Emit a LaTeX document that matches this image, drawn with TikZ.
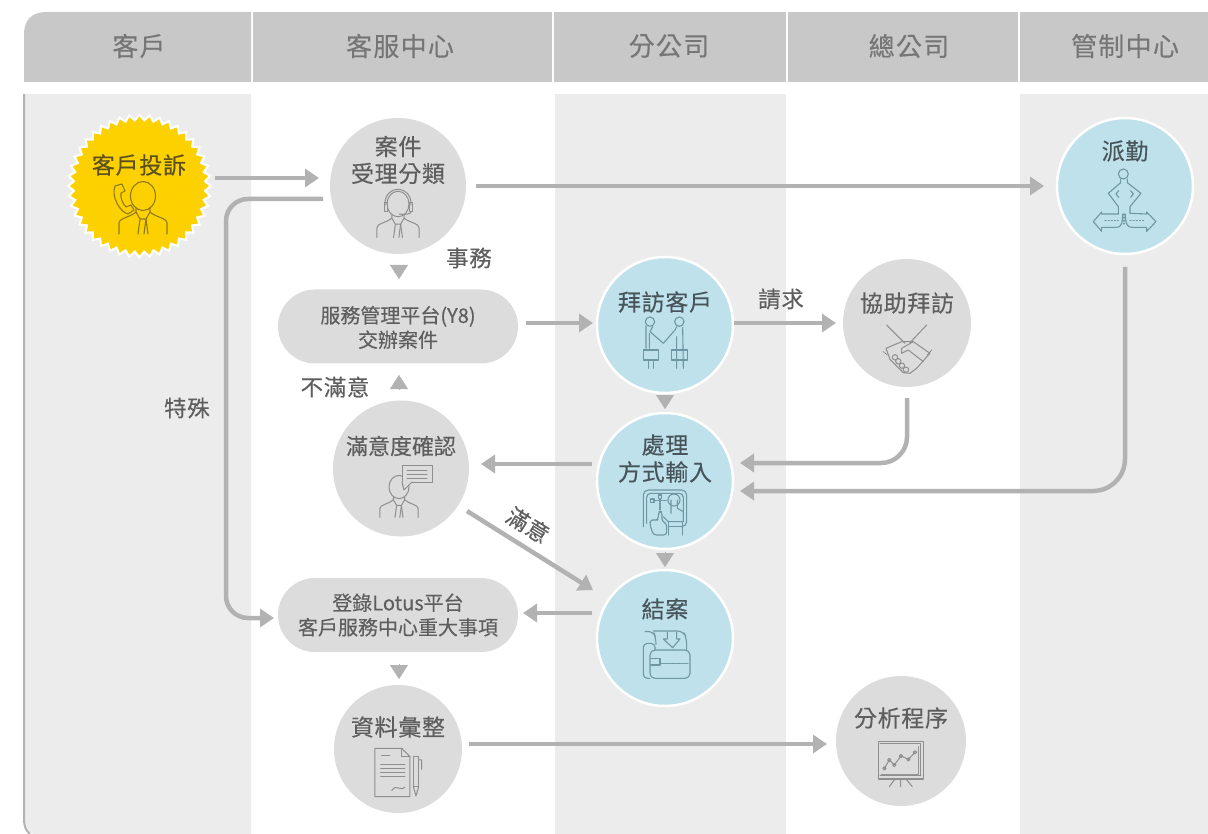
\documentclass[tikz,border=0pt]{standalone}
\usepackage{fontspec}
\setmainfont[FakeBold=0.3]{Noto Sans CJK TC}
\newfontfamily\cjkwide[LetterSpace=5,FakeBold=0.3]{Noto Sans CJK TC}
\newfontfamily\cjkmid[LetterSpace=3,FakeBold=0.3]{Noto Sans CJK TC}
\usetikzlibrary{arrows.meta,calc,shapes.geometric}
\definecolor{headbar}{HTML}{C8C8C8}
\definecolor{lane}{HTML}{ECECEC}
\definecolor{ng}{HTML}{DCDCDC}
\definecolor{nb}{HTML}{BFE1EC}
\definecolor{lineg}{HTML}{B2B2B2}
\definecolor{tx}{HTML}{5E5E5E}
\definecolor{txb}{HTML}{47555A}
\definecolor{ig}{HTML}{8E8E8E}
\definecolor{ib}{HTML}{6F97A3}
\definecolor{iy}{HTML}{8F7A1E}
\definecolor{stary}{HTML}{FDD000}
\definecolor{txy}{HTML}{5C501E}
\newcommand{\fsz}[2]{\fontsize{#1}{#2}\selectfont}
\tikzset{
  x=1pt,y=-1pt,
  hd/.style={font=\cjkwide\fsz{26}{30},text=tx!85!white,inner sep=0},
  gcirc/.style={circle,fill=ng,inner sep=0,minimum size=#1},
  bcirc/.style={circle,fill=nb,draw=white,line width=2.5,inner sep=0,minimum size=#1},
  pill/.style={rectangle,rounded corners=37,fill=ng,inner sep=0,minimum width=240,minimum height=74},
  ntx/.style={font=\cjkmid\fsz{23}{27},text=tx,inner sep=0,align=center},
  btx/.style={ntx,text=txb},
  ptx/.style={font=\fsz{20}{24.5},text=tx,inner sep=0,align=center},
  lab/.style={font=\cjkmid\fsz{22.5}{26},text=tx,inner sep=0},
  flow/.style={draw=lineg,line width=4.5,-{Triangle[length=14,width=18]}},
  tri/.style={draw=lineg,line width=0.1,-{Triangle[length=14,width=18]}},
  ico/.style={draw=ig,line width=1,line join=round,line cap=round},
  icob/.style={draw=ib,line width=1.1,line join=round,line cap=round},
  icoy/.style={draw=iy,line width=1.1,line join=round,line cap=round},
  bust/.pic={
    \path[pic actions] (0,0) ellipse (12.5 and 14.5);
    \path[pic actions] (-24,38) -- (-24,27) .. controls (-24,22) and (-12,21) .. (-7,16) -- (-3,23) -- (-5,38);
    \path[pic actions] (24,38) -- (24,27) .. controls (24,22) and (12,21) .. (7,16) -- (3,23) -- (5,38);
    \path[pic actions] (-7,12) -- (-7,16) (7,12) -- (7,16) (-3,23) -- (3,23) (3,23) -- (1,38);
  }
}
\begin{document}
\begin{tikzpicture}
\useasboundingbox (0,0) rectangle (1208,834);
% lanes
\fill[lane] (24,94) -- (251,94) -- (251,834) -- (36,834) .. controls (28,834) and (24,828) .. (24,820) -- cycle;
\draw[lineg,line width=2] (24,94) -- (24,820) .. controls (24,826) and (26,831) .. (30,834);
\fill[lane] (555,94) rectangle (786,834);
\fill[lane] (1020,94) rectangle (1208,834);
% header
\fill[headbar] (24,82) -- (24,34) .. controls (24,20) and (32,12) .. (46,12) -- (251,12) -- (251,82) -- cycle;
\fill[headbar] (253,12) rectangle (552,82);
\fill[headbar] (554,12) rectangle (786,82);
\fill[headbar] (788,12) rectangle (1018,82);
\fill[headbar] (1020,12) rectangle (1208,82);
\node[hd] (h1) at (139,46) {客戶};
\node[hd] (h2) at (400,46) {客服中心};
\node[hd] (h3) at (669,46) {分公司};
\node[hd] (h4) at (909,46) {總公司};
\node[hd] (h5) at (1125,46) {管制中心};
% shapes
\node[star,star points=44,star point ratio=1.085,fill=white,inner sep=0,minimum size=146] (complaintrim) at (139.5,186) {};
\node[star,star points=44,star point ratio=1.085,fill=stary,inner sep=0,minimum size=139] (complaint) at (139.5,186) {};
\node[gcirc=136] (case) at (398,186) {};
\node[bcirc=136] (disp) at (1125,186) {};
\node[pill] (y8) at (398,326.5) {};
\node[bcirc=136] (visit) at (665,325) {};
\node[gcirc=128] (assist) at (907,323) {};
\node[gcirc=136] (sat) at (401,468.5) {};
\node[bcirc=136] (proc) at (665,481) {};
\node[pill] (login) at (398,615) {};
\node[bcirc=136] (close) at (665,638) {};
\node[gcirc=128] (data) at (398,749) {};
\node[gcirc=130] (ana) at (901,741) {};
% texts
\node[btx,text=txy] (t1) at (139,165) {客戶投訴};
\node[ntx] (t2) at (398,160) {案件\\受理分類};
\node[btx] (t3) at (1125,151) {派勤};
\node[ptx] (t4) at (398,327.5) {服務管理平台(Y8)\\交辦案件};
\node[btx] (t5) at (665,302) {拜訪客戶};
\node[ntx] (t6) at (907,303) {協助拜訪};
\node[ntx,font=\fsz{22}{27}] (t7) at (401,446) {滿意度確認};
\node[btx] (t8) at (665,458.5) {處理\\方式輸入};
\node[ptx] (t9) at (398,615) {登錄Lotus平台\\客戶服務中心重大事項};
\node[btx] (t10) at (665,609) {結案};
\node[ntx] (t11) at (398,727) {資料彙整};
\node[ntx] (t12) at (901,718) {分析程序};
% labels
\node[lab] (l1) at (469,258) {事務};
\node[lab] (l2) at (335,387) {不滿意};
\node[lab] (l3) at (187,408) {特殊};
\node[lab] (l4) at (781,299) {請求};
\node[lab,rotate=-32] (l5) at (528,525) {滿意};
% connectors
\draw[flow] ($(complaint.center)+(75.5,-8)$) -- ($(case.center)+(-79,-8)$);
\draw[flow] ($(case.center)+(78,0)$) -- ($(disp.center)+(-81,0)$);
\draw[flow,rounded corners=22] ($(case.center)+(-75,13)$) -- ($(login.center)+(-172,-416)$) -- ($(login.center)+(-172,3)$) -- ($(login.center)+(-124,3)$);
\draw[tri] ($(case.center)+(1,79)$) -- ($(y8.center)+(1,-47.5)$);
\draw[tri] ($(sat.center)+(-2,-79.5)$) -- ($(y8.center)+(1,48.5)$);
\draw[flow] ($(y8.center)+(128,-3.5)$) -- ($(visit.center)+(-72,-2)$);
\draw[flow] ($(visit.center)+(69,-2)$) -- ($(assist.center)+(-71,0)$);
\draw[tri] ($(visit.center)+(0,70)$) -- ($(proc.center)+(0,-72)$);
\draw[flow,rounded corners=26] ($(assist.center)+(0,75)$) -- ($(assist.center)+(0,140)$) -- ($(proc.center)+(75,-18)$);
\draw[flow,rounded corners=32] ($(disp.center)+(0,81)$) -- ($(disp.center)+(0,305)$) -- ($(proc.center)+(75,10)$);
\draw[flow] ($(proc.center)+(-73,-17)$) -- ($(sat.center)+(80,-4.5)$);
\draw[flow] ($(sat.center)+(66,42.5)$) -- ($(close.center)+(-72,-48)$);
\draw[tri] ($(proc.center)+(0,71)$) -- ($(close.center)+(0,-71)$);
\draw[flow] ($(close.center)+(-73,-25)$) -- ($(login.center)+(125,-2)$);
\draw[tri] ($(login.center)+(1,49)$) -- ($(data.center)+(1,-70)$);
\draw[flow] ($(data.center)+(71,-5)$) -- ($(ana.center)+(-74,3)$);
% icon: complaint
\pic[icoy] at (143,196) {bust};
\begin{scope}[icoy,shift={(113,183)}]
  \draw (2,3) -- (9,1) -- (12,8) -- (8,10) .. controls (7,15) and (10,21) .. (13,24) -- (18,22) -- (21,27) -- (15,31) .. controls (7,29) and (-2,14) .. (2,3) -- cycle;
\end{scope}
% icon: headset operator
\pic[ico,scale=0.88] at (398,204) {bust};
\draw[ico] (385,205) .. controls (384,184) and (412,184) .. (411,205);
\draw[ico] (384,203) rectangle (387,212) (409,203) rectangle (412,212);
\draw[ico] (411,212) .. controls (411,214) and (405,215) .. (399,214);
% icon: dispatch
\begin{scope}[icob,shift={(1080,150)},scale=0.3333]
  \draw (130,72) circle (15);
  \draw (122,87) -- (122,98) -- (85,130) -- (115,170) -- (115,192);
  \draw (142,87) -- (142,98) -- (183,130) -- (150,170) -- (150,190);
  \draw (116,122) -- (108,132) -- (116,142) (152,122) -- (160,132) -- (152,142);
  \draw (115,192) -- (65,192) -- (65,186) -- (40,215) -- (65,244) -- (65,232) -- (110,232) .. controls (122,232) and (128,222) .. (128,192);
  \draw (150,190) -- (200,192) -- (200,186) -- (228,215) -- (200,244) -- (200,232) -- (155,232) .. controls (143,232) and (136,222) .. (136,192);
  \draw[dotted] (75,212) -- (115,212) (150,212) -- (192,212) (132,192) -- (132,222);
\end{scope}
% icon: visit
\begin{scope}[icob,shift={(630,300)},scale=0.3333]
  \draw (60,65) circle (14) (148,65) circle (14);
  \draw (48,78) -- (48,145) (68,80) -- (60,95) -- (100,130) -- (135,90) -- (140,80);
  \draw (58,100) -- (58,145) (158,82) -- (160,205) (140,110) -- (140,205);
  \draw (40,150) rectangle (85,180) (125,150) rectangle (172,180);
  \draw (55,185) -- (55,205) (70,185) -- (70,205);
\end{scope}
% icon: handshake
\begin{scope}[ico,shift={(630,300)},scale=0.3333]
  \draw (770,75) -- (825,130) (890,75) -- (840,128);
  \draw (768,145) -- (815,125) -- (850,125) -- (900,160) -- (860,205) -- (840,220) -- (820,218) -- (780,178) -- (768,145);
  \draw (850,125) -- (815,145) -- (815,160) -- (835,150) -- (880,185);
  \draw (795,172) circle (8) (805,184) circle (8) (816,197) circle (8) (828,209) circle (8);
  \draw[densely dotted] (760,155) -- (772,165) (892,165) -- (905,150);
\end{scope}
% icon: satisfaction
\pic[ico,scale=0.8] at (399,487) {bust};
\draw[ico,fill=ng] (402,465) rectangle (432,482);
\draw[ico] (407,470) -- (427,470) (407,474) -- (427,474) (407,478) -- (427,478);
\draw[ico,fill=ng] (402,482) -- (404,490) -- (412,482);
% icon: touch screen
\begin{scope}[icob,shift={(630,485)},scale=0.3333]
  \draw[rounded corners=5] (40,125) -- (40,15) -- (170,15) -- (170,125) -- (150,125);
  \draw[rounded corners=4] (50,115) -- (50,25) -- (160,25) -- (160,100);
  \draw (62,42) rectangle (72,52) (85,30) rectangle (95,40);
  \draw[densely dotted] (75,47) -- (110,47) (90,42) -- (90,75);
  \draw (132,45) circle (18);
  \draw (123,45) -- (123,85) (142,45) -- (142,70) -- (160,80) -- (160,110) -- (115,110) -- (100,95);
  \draw (115,112) -- (115,150) (158,112) -- (158,150) (115,125) -- (158,125);
  \draw[rounded corners=3] (70,150) -- (60,120) -- (60,105) -- (75,105) -- (85,105) -- (85,80) -- (96,80) -- (96,110) -- (110,115) -- (110,150) -- cycle;
\end{scope}
% icon: close case
\begin{scope}[icob,shift={(630,625)},scale=0.3333]
  \draw[rounded corners=5] (60,75) rectangle (180,160);
  \draw[rounded corners=4] (60,160) -- (40,160) -- (40,55) -- (75,55) -- (75,75);
  \draw[rounded corners=6] (45,20) -- (70,18) -- (78,40) -- (78,55) (70,18) -- (160,18) -- (170,40) -- (170,75);
  \draw (112,22) -- (112,42) -- (100,42) -- (128,68) -- (150,42) -- (140,42) -- (140,22);
  \draw (62,100) -- (90,100) -- (90,120) -- (62,120);
  \draw[densely dotted] (95,116) -- (176,116);
\end{scope}
% icon: document
\begin{scope}[ico,shift={(260,400)},scale=0.3333]
  \draw (345,1045) -- (425,1045) -- (450,1070) -- (450,1190) -- (345,1190) -- cycle;
  \draw (425,1045) -- (425,1070) -- (450,1070);
  \draw (365,1068) -- (390,1068);
  \foreach \yy in {1095,1107,1119,1131} \draw (362,\yy) -- (435,\yy);
  \draw (395,1172) .. controls (410,1150) and (415,1175) .. (435,1162);
  \draw (460,1070) rectangle (476,1160);
  \draw (460,1160) -- (468,1188) -- (476,1160) (476,1080) -- (485,1080) -- (485,1108);
\end{scope}
% icon: chart
\begin{scope}[ico,shift={(820,680)},scale=0.3333]
  \draw[line width=1.3] (175,185) rectangle (310,297);
  \draw (180,192) -- (303,192) -- (303,288);
  \draw (180,288) -- (303,288);
  \draw (193,265) -- (208,240) -- (223,255) -- (243,228) -- (265,238) -- (285,217);
  \foreach \px/\py in {193/265,208/240,223/255,243/228,265/238,285/217} \draw (\px,\py) circle (5);
  \draw[densely dotted] (297,200) -- (297,283) (185,283) -- (295,283);
  \draw (242,297) -- (242,320) (225,297) -- (208,320) (258,297) -- (277,320);
\end{scope}
\end{tikzpicture}
\end{document}
